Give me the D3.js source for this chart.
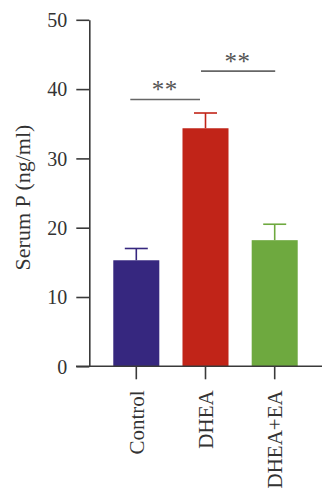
<!DOCTYPE html>
<html><head><meta charset="utf-8">
<script src="https://cdn.jsdelivr.net/npm/d3@7"></script>
<style>html,body{margin:0;padding:0;background:#fff;}svg{display:block;}</style>
</head><body>
<svg id="c" width="334" height="500"></svg>
<script>
const categories = ["Control", "DHEA", "DHEA+EA"];
const means = [15.3, 34.35, 18.2];
const errors = [1.7, 2.2, 2.3];
const colors = ["#36277f", "#c12418", "#6ea93f"];
const yTicks = [0, 10, 20, 30, 40, 50];
const sigFrom = ["Control", "DHEA"];
const sigTo = ["DHEA", "DHEA+EA"];
const sigLevels = [38.5, 42.6];
const sigLabel = "**";
const yLabel = "Serum P (ng/ml)";

const svg = d3.select("#c");
const font = "'Liberation Serif','Times New Roman',serif";
const axisColor = "#3a3a3a";

const y = d3.scaleLinear().domain([0, 50]).range([366.3, 19.8]);
const x = d3.scaleBand().domain(categories).range([101.7, 309.3]).paddingInner(0.335).paddingOuter(0.1675);
const cx = c => x(c) + x.bandwidth() / 2;

// bars
svg.selectAll("rect.bar").data(categories).join("rect")
  .attr("x", d => x(d)).attr("width", x.bandwidth())
  .attr("y", (d, i) => y(means[i])).attr("height", (d, i) => y(0) - y(means[i]))
  .attr("fill", (d, i) => colors[i]);

// error bars
const cap = 23;
categories.forEach((c, i) => {
  const g = svg.append("g").attr("stroke", colors[i]).attr("stroke-width", 1.6);
  g.append("line").attr("x1", cx(c)).attr("x2", cx(c)).attr("y1", y(means[i])).attr("y2", y(means[i] + errors[i]));
  g.append("line").attr("x1", cx(c) - cap / 2).attr("x2", cx(c) + cap / 2).attr("y1", y(means[i] + errors[i])).attr("y2", y(means[i] + errors[i]));
});

// y axis
const yAxis = d3.axisLeft(y).tickValues(yTicks).tickSize(13).tickPadding(9).tickSizeOuter(0);
const gy = svg.append("g").attr("transform", "translate(89.3,0)").call(yAxis);
gy.select(".domain").attr("stroke", axisColor).attr("stroke-width", 1.6);
gy.selectAll(".tick line").attr("stroke", axisColor).attr("stroke-width", 1.6);
gy.selectAll(".tick text").attr("font-family", font).attr("font-size", 20).attr("fill", "#333").attr("dy", "0.34em");

// x axis
const gx = svg.append("g").attr("transform", "translate(0,366.3)");
gx.append("line").attr("x1", 76).attr("x2", 322).attr("stroke", axisColor).attr("stroke-width", 1.6);
const xAxis = d3.axisBottom(x).tickSize(13).tickSizeOuter(0);
const gxa = gx.append("g").call(xAxis);
gxa.select(".domain").remove();
gxa.selectAll(".tick line").attr("stroke", axisColor).attr("stroke-width", 1.6);
gxa.selectAll(".tick text")
  .attr("font-family", font).attr("font-size", 21).attr("fill", "#333")
  .attr("transform", "rotate(-90)")
  .attr("text-anchor", "end")
  .attr("x", -24).attr("y", 0).attr("dy", "0.35em");

// y label
svg.append("text")
  .attr("transform", "translate(30,197.5) rotate(-90)")
  .attr("text-anchor", "middle")
  .attr("font-family", font).attr("font-size", 22).attr("fill", "#333")
  .text(yLabel);

// significance
const lineStartOff = [-6, -4.5];
const lineEndOff = [-5.5, 0.5];
sigLevels.forEach((v, i) => {
  const x1 = cx(sigFrom[i]) + lineStartOff[i];
  const x2 = cx(sigTo[i]) + lineEndOff[i];
  svg.append("line").attr("x1", x1).attr("x2", x2).attr("y1", y(v)).attr("y2", y(v))
    .attr("stroke", "#666").attr("stroke-width", 1.6);
  svg.append("text").attr("x", (x1 + x2) / 2 - 0.5).attr("y", y(v) - 1)
    .attr("text-anchor", "middle").attr("font-family", font).attr("font-size", 25)
    .attr("letter-spacing", 0.5).attr("fill", "#555")
    .text(sigLabel);
});
</script>
</body></html>
